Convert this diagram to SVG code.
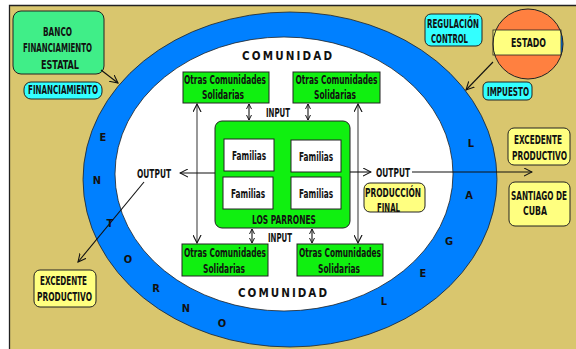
<svg xmlns="http://www.w3.org/2000/svg" width="576" height="349" viewBox="0 0 576 349">
<style>
.t{font-family:"Liberation Sans Narrow","DejaVu Sans Condensed","Liberation Sans",sans-serif;font-weight:bold;font-size:12px;fill:#111;text-anchor:middle}
.s{font-size:11.5px}
.l{font-size:11px}
.bx{stroke:#222;stroke-width:1}
.g1{fill:#40EE88}
.g2{fill:#10F010}
.cy{fill:#33FFFF}
.ye{fill:#FFFF80}
.wh{fill:#fff}
.c{fill:none;stroke:#111;stroke-width:1.1}
.gr{fill:none;stroke:#444;stroke-width:1.1}
</style>
<defs>
<marker id="ah" viewBox="0 0 10 10" refX="9" refY="5" markerWidth="9" markerHeight="9" markerUnits="userSpaceOnUse" orient="auto-start-reverse">
<path d="M0,0.5 L9,5 L0,9.5" fill="none" stroke="#111" stroke-width="1.2"/>
</marker>
<marker id="as" viewBox="0 0 10 10" refX="9" refY="5" markerWidth="6" markerHeight="7" markerUnits="userSpaceOnUse" orient="auto-start-reverse">
<path d="M0,0.5 L9,5 L0,9.5" fill="none" stroke="#111" stroke-width="1.6"/>
</marker>
<clipPath id="cc"><circle cx="528" cy="44" r="35"/></clipPath>
</defs>
<rect width="576" height="349" fill="#fff"/>
<rect x="9" y="5" width="567" height="344" fill="#D9C66E"/>
<path d="M9.5,349 V5.5 H576" fill="none" stroke="#222" stroke-width="1.3"/>
<g id="entorno">
<ellipse cx="290" cy="179.5" rx="207" ry="167.5" fill="#0080FF" stroke="#222" stroke-width="0.8"/>
<ellipse cx="284" cy="174" rx="169" ry="137" fill="#fff" stroke="#222" stroke-width="0.8"/>
<text class="t l" x="103" y="141">E</text>
<text class="t l" x="97" y="184">N</text>
<text class="t l" x="110" y="227">T</text>
<text class="t l" x="128" y="263">O</text>
<text class="t l" x="156" y="292">R</text>
<text class="t l" x="186" y="312">N</text>
<text class="t l" x="222" y="327">O</text>
<text class="t l" x="471" y="147">L</text>
<text class="t l" x="469" y="199">A</text>
<text class="t l" x="449" y="245">G</text>
<text class="t l" x="423" y="277">E</text>
<text class="t l" x="384" y="305">L</text>
<text class="t s" x="287" y="60" textLength="90" lengthAdjust="spacing">COMUNIDAD</text>
<text class="t s" x="282.5" y="297" textLength="89" lengthAdjust="spacing">COMUNIDAD</text>
</g>
<g id="banco">
<rect class="bx g1" x="13" y="11" width="91" height="63" rx="8"/>
<text class="t" x="57.5" y="36" textLength="29" lengthAdjust="spacingAndGlyphs">BANCO</text>
<text class="t" x="57.5" y="52" textLength="69" lengthAdjust="spacingAndGlyphs">FINANCIAMIENTO</text>
<text class="t" x="60" y="69" textLength="38" lengthAdjust="spacingAndGlyphs">ESTATAL</text>
</g>
<g id="financiamiento">
<rect class="bx cy" x="24" y="82" width="78" height="17" rx="7"/>
<text class="t" x="63" y="94" textLength="70" lengthAdjust="spacingAndGlyphs">FINANCIAMIENTO</text>
</g>
<g id="regulacion">
<rect class="bx cy" x="425" y="14" width="57" height="32" rx="6"/>
<text class="t" x="453" y="28" textLength="52" lengthAdjust="spacingAndGlyphs">REGULACIÓN</text>
<text class="t" x="449.5" y="43" textLength="37" lengthAdjust="spacingAndGlyphs">CONTROL</text>
</g>
<g id="estado">
<circle cx="528" cy="44" r="35" fill="#FF8040"/>
<rect x="490" y="30" width="76" height="25" fill="#0080FF" clip-path="url(#cc)"/>
<rect x="493" y="30" width="68" height="25" fill="#FFFF80" stroke="#222" stroke-width="0.8"/>
<circle cx="528" cy="44" r="35" fill="none" stroke="#222" stroke-width="1"/>
<text class="t" x="528.5" y="47" textLength="35" lengthAdjust="spacingAndGlyphs">ESTADO</text>
</g>
<g id="impuesto">
<rect class="bx cy" x="483" y="82" width="49" height="18" rx="5"/>
<text class="t" x="508" y="96" textLength="42" lengthAdjust="spacingAndGlyphs">IMPUESTO</text>
</g>
<g id="otras1">
<rect class="bx g2" x="183" y="72" width="86" height="31"/>
<text class="t" x="225" y="84" textLength="82" lengthAdjust="spacingAndGlyphs">Otras Comunidades</text>
<text class="t" x="223" y="99" textLength="42" lengthAdjust="spacingAndGlyphs">Solidarias</text>
</g>
<g id="otras2">
<rect class="bx g2" x="293" y="72" width="87" height="31"/>
<text class="t" x="336.5" y="84" textLength="82" lengthAdjust="spacingAndGlyphs">Otras Comunidades</text>
<text class="t" x="335" y="99" textLength="42" lengthAdjust="spacingAndGlyphs">Solidarias</text>
</g>
<g id="otras3">
<rect class="bx g2" x="182" y="244" width="86" height="32"/>
<text class="t" x="225" y="257" textLength="82" lengthAdjust="spacingAndGlyphs">Otras Comunidades</text>
<text class="t" x="224" y="273" textLength="42" lengthAdjust="spacingAndGlyphs">Solidarias</text>
</g>
<g id="otras4">
<rect class="bx g2" x="297" y="244" width="86" height="32"/>
<text class="t" x="340" y="257" textLength="82" lengthAdjust="spacingAndGlyphs">Otras Comunidades</text>
<text class="t" x="339" y="273" textLength="42" lengthAdjust="spacingAndGlyphs">Solidarias</text>
</g>
<g id="parrones">
<rect class="bx g2" x="215" y="121" width="135" height="107" rx="7"/>
<rect class="bx wh" x="224" y="139" width="50" height="32"/>
<rect class="bx wh" x="291" y="140" width="50" height="32"/>
<rect class="bx wh" x="223" y="177" width="50" height="32"/>
<rect class="bx wh" x="291" y="177" width="50" height="32"/>
<text class="t" x="249" y="160" textLength="34" lengthAdjust="spacingAndGlyphs">Familias</text>
<text class="t" x="316" y="161" textLength="34" lengthAdjust="spacingAndGlyphs">Familias</text>
<text class="t" x="248" y="198" textLength="34" lengthAdjust="spacingAndGlyphs">Familias</text>
<text class="t" x="316" y="198" textLength="34" lengthAdjust="spacingAndGlyphs">Familias</text>
<text class="t" x="284" y="224" textLength="64" lengthAdjust="spacingAndGlyphs">LOS PARRONES</text>
</g>
<g id="produccion">
<rect class="bx ye" x="364" y="183" width="61" height="29" rx="6"/>
<text class="t" x="393" y="197" textLength="56" lengthAdjust="spacingAndGlyphs">PRODUCCIÓN</text>
<text class="t" x="388.5" y="212" textLength="23" lengthAdjust="spacingAndGlyphs">FINAL</text>
</g>
<g id="excedente-der">
<rect class="bx ye" x="508" y="128" width="62" height="37" rx="6"/>
<text class="t" transform="translate(538,144) scale(0.6,1)" x="0" y="0" textLength="80" lengthAdjust="spacingAndGlyphs">EXCEDENTE</text>
<text class="t" transform="translate(539.5,160) scale(0.6,1)" x="0" y="0" textLength="91.7" lengthAdjust="spacingAndGlyphs">PRODUCTIVO</text>
</g>
<g id="santiago">
<rect class="bx ye" x="509" y="182" width="61" height="44" rx="6"/>
<text class="t" transform="translate(539,200) scale(0.6,1)" x="0" y="0" textLength="93.3" lengthAdjust="spacingAndGlyphs">SANTIAGO DE</text>
<text class="t" x="535" y="215" textLength="24" lengthAdjust="spacingAndGlyphs">CUBA</text>
</g>
<g id="excedente-izq">
<rect class="bx ye" x="34" y="270" width="62" height="37" rx="6"/>
<text class="t" x="63.5" y="285" textLength="47" lengthAdjust="spacingAndGlyphs">EXCEDENTE</text>
<text class="t" x="64.5" y="301" textLength="55" lengthAdjust="spacingAndGlyphs">PRODUCTIVO</text>
</g>
<g id="connectors">
<line class="c" x1="101" y1="70" x2="118" y2="83" marker-end="url(#ah)"/>
<line class="c" x1="493" y1="62" x2="466" y2="90" marker-end="url(#ah)"/>
<line class="c" x1="249" y1="104" x2="249" y2="120" marker-start="url(#as)" marker-end="url(#as)"/>
<line class="c" x1="308" y1="104" x2="308" y2="120" marker-start="url(#as)" marker-end="url(#as)"/>
<line class="c" x1="252" y1="229" x2="252" y2="243" marker-start="url(#as)" marker-end="url(#as)"/>
<line class="c" x1="312" y1="229" x2="312" y2="243" marker-start="url(#as)" marker-end="url(#as)"/>
<line class="gr" x1="197" y1="104" x2="197" y2="243" marker-start="url(#ah)" marker-end="url(#ah)"/>
<line class="gr" x1="358" y1="104" x2="358" y2="243" marker-start="url(#ah)" marker-end="url(#ah)"/>
<line class="c" x1="215" y1="173" x2="180" y2="173" marker-end="url(#ah)"/>
<line class="c" x1="144" y1="182" x2="78" y2="262" marker-end="url(#ah)"/>
<line class="c" x1="350" y1="172" x2="371" y2="172" marker-end="url(#ah)"/>
<line class="c" x1="412" y1="172" x2="532" y2="172" marker-end="url(#ah)"/>
<text class="t" x="278" y="117" textLength="24" lengthAdjust="spacingAndGlyphs">INPUT</text>
<text class="t" x="280" y="242" textLength="24" lengthAdjust="spacingAndGlyphs">INPUT</text>
<text class="t" x="154" y="178" textLength="34" lengthAdjust="spacingAndGlyphs">OUTPUT</text>
<text class="t" x="393" y="177" textLength="34" lengthAdjust="spacingAndGlyphs">OUTPUT</text>
</g>
</svg>
